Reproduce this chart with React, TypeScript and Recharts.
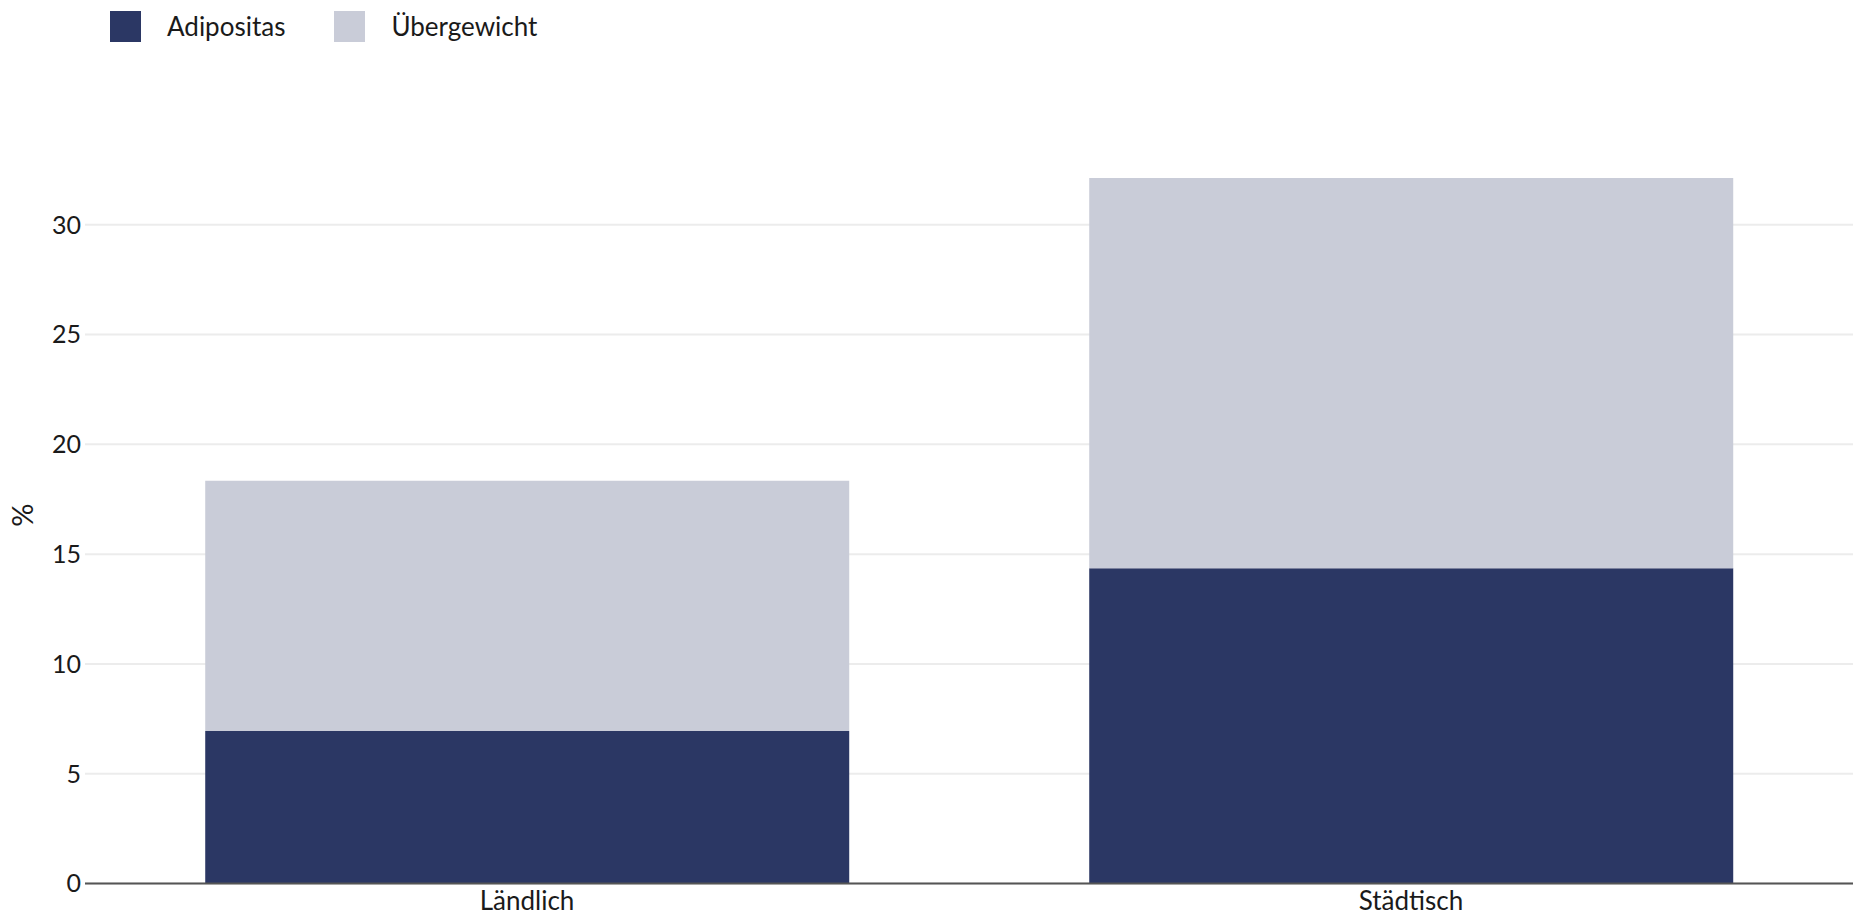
import React from 'react';
import { BarChart, Bar, XAxis, YAxis, CartesianGrid } from 'recharts';

const categories = ['Ländlich', 'Städtisch'];
const adipositas = [6.95, 14.36];
const uebergewicht = [11.39, 17.77];
const yTicks = [0, 5, 10, 15, 20, 25, 30];
const seriesNames = ['Adipositas', 'Übergewicht'];
const seriesColors = ['#2b3764', '#c9ccd8'];

const data = categories.map((c, i) => ({
  name: c,
  adipositas: adipositas[i],
  uebergewicht: uebergewicht[i],
}));

const FONT = 'Lato, "Noto Sans", sans-serif';

export default function App() {
  return (
    <div style={{ position: 'relative', width: 1857, height: 923, fontFamily: FONT }}>
      <style>{`body{margin:0;}`}</style>
      <div
        style={{
          position: 'absolute',
          left: 110,
          top: 11,
          display: 'flex',
          alignItems: 'center',
          height: 31,
          zIndex: 2,
        }}
      >
        {seriesNames.map((n, i) => (
          <div key={n} style={{ display: 'flex', alignItems: 'center', marginRight: i === 0 ? 49 : 0 }}>
            <div style={{ width: 31, height: 31, background: seriesColors[i], marginRight: 26 }} />
            <span style={{ fontSize: 26, color: '#1a1a1a', lineHeight: '31px' }}>{n}</span>
          </div>
        ))}
      </div>
      <BarChart
        width={1857}
        height={923}
        data={data}
        margin={{ top: 178, right: 4, bottom: 9.5, left: 0 }}
        barCategoryGap="13.6%"
      >
        <CartesianGrid vertical={false} stroke="#ececec" strokeWidth={2} horizontalValues={yTicks} />
        <XAxis
          dataKey="name"
          height={30}
          tickSize={0}
          tickMargin={8}
          axisLine={{ stroke: '#555555', strokeWidth: 2 }}
          tick={{ fontSize: 26, fill: '#1a1a1a', fontFamily: FONT }}
        />
        <YAxis
          width={85}
          domain={[0, 'dataMax']}
          ticks={yTicks}
          tickSize={0}
          tickMargin={4}
          axisLine={false}
          tick={{ fontSize: 25, fill: '#1a1a1a', fontFamily: FONT }}
          label={{
            content: () => (
              <text
                x={21}
                y={515}
                transform="rotate(-90 21 515)"
                textAnchor="middle"
                dominantBaseline="central"
                fontSize={29}
                fill="#1a1a1a"
                fontFamily={FONT}
              >
                %
              </text>
            ),
          }}
        />
        <Bar dataKey="adipositas" name={seriesNames[0]} stackId="a" fill={seriesColors[0]} isAnimationActive={false} />
        <Bar dataKey="uebergewicht" name={seriesNames[1]} stackId="a" fill={seriesColors[1]} isAnimationActive={false} />
      </BarChart>
    </div>
  );
}
